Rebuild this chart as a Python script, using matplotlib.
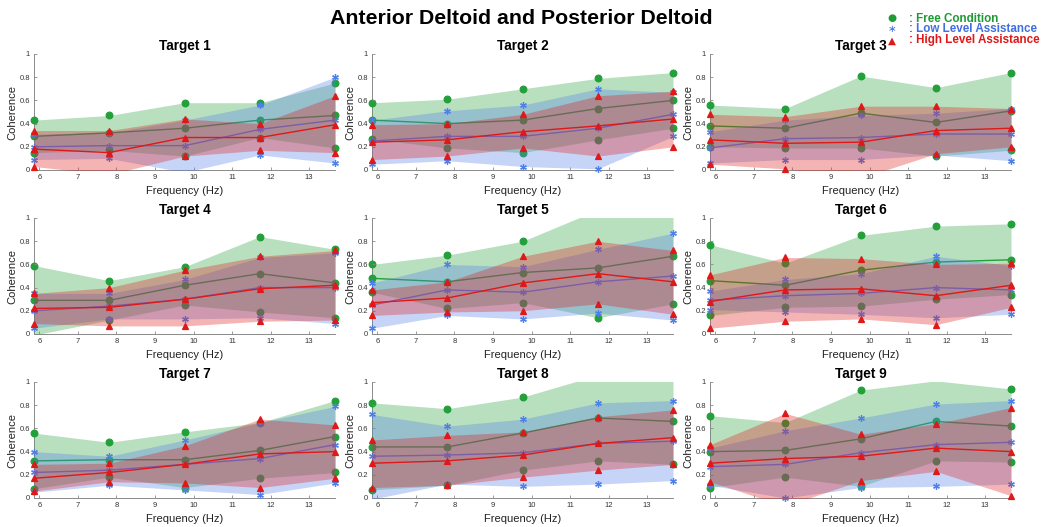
import matplotlib
matplotlib.use("Agg")
import matplotlib.pyplot as plt
import numpy as np

plt.rcParams['font.family'] = ['Liberation Sans', 'DejaVu Sans']

freq = [5.86, 7.81, 9.77, 11.72, 13.67]
targets = ['Target %d' % i for i in range(1, 10)]

# free condition: mean and band limits per target
free_mean = [
    [0.29, 0.32, 0.36, 0.43, 0.47],
    [0.43, 0.40, 0.43, 0.53, 0.60],
    [0.38, 0.36, 0.49, 0.41, 0.51],
    [0.29, 0.29, 0.42, 0.52, 0.44],
    [0.48, 0.45, 0.53, 0.57, 0.67],
    [0.46, 0.42, 0.55, 0.62, 0.64],
    [0.32, 0.33, 0.33, 0.41, 0.53],
    [0.44, 0.44, 0.56, 0.69, 0.66],
    [0.40, 0.41, 0.51, 0.66, 0.62],
]
free_hi = [
    [0.43, 0.47, 0.58, 0.58, 0.75],
    [0.58, 0.61, 0.70, 0.79, 0.84],
    [0.56, 0.53, 0.81, 0.71, 0.84],
    [0.59, 0.46, 0.58, 0.84, 0.73],
    [0.60, 0.68, 0.80, 1.07, 1.09],
    [0.77, 0.61, 0.85, 0.93, 0.95],
    [0.56, 0.48, 0.57, 0.65, 0.84],
    [0.82, 0.77, 0.87, 1.06, 1.05],
    [0.71, 0.65, 0.93, 1.01, 0.94],
]
free_lo = [
    [0.15, 0.17, 0.12, 0.28, 0.19],
    [0.27, 0.19, 0.15, 0.26, 0.36],
    [0.20, 0.19, 0.19, 0.12, 0.17],
    [-0.01, 0.12, 0.25, 0.19, 0.14],
    [0.36, 0.22, 0.27, 0.14, 0.26],
    [0.16, 0.23, 0.24, 0.30, 0.34],
    [0.08, 0.18, 0.09, 0.17, 0.22],
    [0.07, 0.11, 0.24, 0.32, 0.29],
    [0.09, 0.18, 0.10, 0.32, 0.31],
]

# low level assistance
low_mean = [
    [0.20, 0.21, 0.21, 0.35, 0.43],
    [0.25, 0.29, 0.29, 0.36, 0.48],
    [0.19, 0.27, 0.28, 0.31, 0.31],
    [0.20, 0.24, 0.30, 0.40, 0.40],
    [0.25, 0.38, 0.36, 0.45, 0.50],
    [0.29, 0.33, 0.35, 0.40, 0.38],
    [0.22, 0.24, 0.29, 0.34, 0.46],
    [0.36, 0.37, 0.39, 0.47, 0.49],
    [0.27, 0.29, 0.39, 0.46, 0.48],
]
low_hi = [
    [0.31, 0.32, 0.43, 0.56, 0.80],
    [0.43, 0.51, 0.56, 0.70, 0.67],
    [0.33, 0.43, 0.47, 0.49, 0.53],
    [0.35, 0.35, 0.47, 0.66, 0.70],
    [0.44, 0.60, 0.58, 0.73, 0.87],
    [0.37, 0.47, 0.52, 0.67, 0.59],
    [0.40, 0.36, 0.50, 0.65, 0.79],
    [0.72, 0.62, 0.68, 0.82, 0.84],
    [0.43, 0.58, 0.69, 0.81, 0.84],
]
low_lo = [
    [0.09, 0.10, -0.02, 0.13, 0.06],
    [0.05, 0.08, 0.03, 0.01, 0.29],
    [0.06, 0.09, 0.09, 0.13, 0.08],
    [0.05, 0.13, 0.13, 0.14, 0.09],
    [0.05, 0.16, 0.13, 0.18, 0.12],
    [0.21, 0.19, 0.17, 0.14, 0.17],
    [0.05, 0.11, 0.07, 0.03, 0.13],
    [-0.01, 0.12, 0.10, 0.12, 0.15],
    [0.11, 0.00, 0.09, 0.10, 0.12],
]

# high level assistance
high_mean = [
    [0.18, 0.15, 0.28, 0.28, 0.39],
    [0.24, 0.26, 0.33, 0.38, 0.44],
    [0.26, 0.23, 0.24, 0.34, 0.36],
    [0.22, 0.23, 0.30, 0.39, 0.42],
    [0.27, 0.31, 0.44, 0.52, 0.45],
    [0.28, 0.38, 0.39, 0.33, 0.42],
    [0.17, 0.22, 0.29, 0.38, 0.40],
    [0.30, 0.32, 0.37, 0.47, 0.52],
    [0.30, 0.34, 0.36, 0.43, 0.40],
]
high_hi = [
    [0.34, 0.34, 0.44, 0.40, 0.64],
    [0.39, 0.40, 0.48, 0.64, 0.68],
    [0.48, 0.46, 0.55, 0.55, 0.53],
    [0.35, 0.40, 0.55, 0.67, 0.72],
    [0.38, 0.45, 0.67, 0.80, 0.72],
    [0.51, 0.66, 0.65, 0.60, 0.61],
    [0.29, 0.30, 0.45, 0.68, 0.63],
    [0.50, 0.54, 0.57, 0.70, 0.76],
    [0.46, 0.73, 0.55, 0.64, 0.78],
]
high_lo = [
    [0.03, -0.04, 0.12, 0.17, 0.15],
    [0.09, 0.12, 0.19, 0.12, 0.20],
    [0.05, 0.01, -0.07, 0.14, 0.20],
    [0.09, 0.07, 0.07, 0.11, 0.12],
    [0.16, 0.19, 0.20, 0.26, 0.17],
    [0.05, 0.11, 0.13, 0.08, 0.23],
    [0.06, 0.14, 0.13, 0.09, 0.17],
    [0.09, 0.11, 0.18, 0.24, 0.29],
    [0.14, -0.07, 0.15, 0.23, 0.02],
]

conditions = [
    # label, colour, marker, mean, upper, lower
    ('Free Condition', '#22a03a', 'o', free_mean, free_hi, free_lo),
    ('Low Level Assistance', '#4f7fe8', (6, 2, 0), low_mean, low_hi, low_lo),
    ('High Level Assistance', '#e01818', '^', high_mean, high_hi, high_lo),
]
legend_colors = ['#1f9a35', '#3f6fe0', '#e01818']
legend_glyphs = ['\u25CF', '\u2217', '\u25B2']


def visible(vals):
    # markers are drawn unclipped, so hide the ones outside 0..1
    v = np.asarray(vals, dtype=float)
    return np.where((v >= 0) & (v <= 1), v, np.nan)


W, H = 1049, 527
fig = plt.figure(figsize=(W / 100, H / 100), dpi=100)

col_left = [34, 372, 710]
row_top = [54, 218, 382]
ax_w, ax_h = 301, 116

for k, name in enumerate(targets):
    r, c = divmod(k, 3)
    ax = fig.add_axes([col_left[c] / W, 1 - (row_top[r] + ax_h) / H, ax_w / W, ax_h / H])
    for j, (label, color, mk, mean, hi, lo) in enumerate(conditions):
        z = 1 + j
        ax.plot(freq, mean[k], color=color, lw=1.0, zorder=z)
        for vals in (mean[k], hi[k], lo[k]):
            ax.plot(freq, visible(vals), ls='none', marker=mk, ms=4.8,
                    mec=color, mfc=color, mew=0.9, zorder=z, clip_on=False)
        ax.fill_between(freq, lo[k], hi[k], color=color, alpha=0.32,
                        linewidth=0, zorder=z + 0.5)
    ax.set_xlim(5.86, 13.67)
    ax.set_ylim(0, 1)
    ax.set_xticks(range(6, 14))
    ax.set_yticks([0, 0.2, 0.4, 0.6, 0.8, 1])
    ax.set_yticklabels(['0', '0.2', '0.4', '0.6', '0.8', '1'])
    for s in ('top', 'right'):
        ax.spines[s].set_visible(False)
    for s in ('left', 'bottom'):
        ax.spines[s].set_color('#8a8a8a')
        ax.spines[s].set_linewidth(0.7)
        ax.spines[s].set_zorder(0.5)
    ax.tick_params(direction='in', length=2, width=0.6, color='#8a8a8a',
                   labelsize=5.5, labelcolor='#333333', pad=3)
    ax.set_title(name, fontsize=9.8, fontweight='bold', pad=3)
    ax.set_xlabel('Frequency (Hz)', fontsize=8, labelpad=3.5, color='#222222')
    ax.set_ylabel('Coherence', fontsize=8, labelpad=1.5, color='#222222')

fig.text(0.497, 0.965, 'Anterior Deltoid and Posterior Deltoid', ha='center', va='center',
         fontsize=15.3, fontweight='bold')

for i, (cond, col, glyph) in enumerate(zip(conditions, legend_colors, legend_glyphs)):
    y = 1 - (18.5 + 11 * i) / H
    fig.text(892 / W, y, glyph, color=col, fontsize=7.5, ha='center', va='center',
             family=['DejaVu Sans'])
    fig.text(909 / W, y, ': ' + cond[0], color=col, fontsize=8.4, fontweight='bold',
             ha='left', va='center')

fig.savefig('out.png', dpi=100)
